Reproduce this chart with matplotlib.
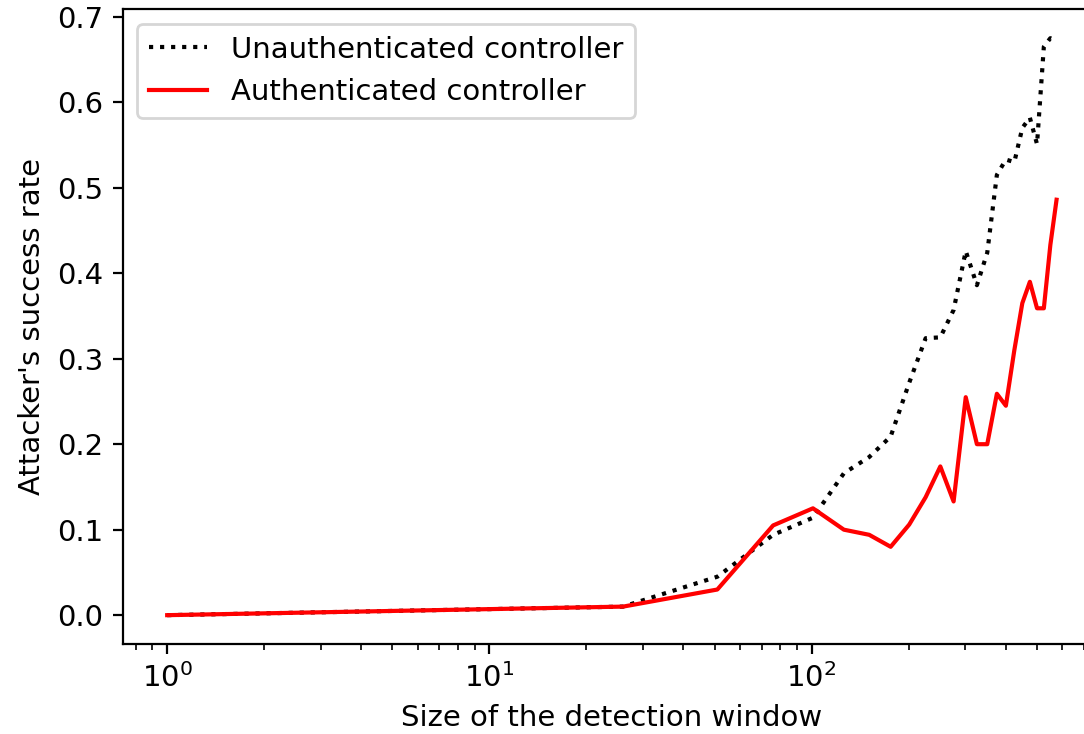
import matplotlib
matplotlib.use('Agg')
import matplotlib.pyplot as plt

plt.rcParams['font.size'] = 10.5

# detection window sizes
window = [1, 26, 51, 76, 101, 126, 151, 176, 201, 226, 251, 276,
          301, 326, 351, 376, 401, 426, 451, 476, 501, 526, 551, 576]

# success rate without / with controller authentication
unauth = [0.0, 0.01, 0.045, 0.094, 0.114, 0.166, 0.185, 0.209, 0.272, 0.324, 0.325, 0.357,
          0.426, 0.386, 0.424, 0.515, 0.533, 0.530, 0.570, 0.582, 0.551, 0.665, 0.675, 0.672]
auth = [0.0, 0.01, 0.03, 0.105, 0.125, 0.100, 0.094, 0.080, 0.106, 0.138, 0.174, 0.133,
        0.255, 0.200, 0.200, 0.259, 0.245, 0.310, 0.365, 0.390, 0.359, 0.359, 0.433, 0.486]

fig = plt.figure(figsize=(5.42, 3.67), dpi=200)
ax = fig.add_axes([0.1132, 0.1226, 0.9025, 0.8647])  # right side runs off the picture, as in the original

ax.plot(window, unauth, ':', color='black', label='Unauthenticated controller')
ax.plot(window, auth, '-', color='red', label='Authenticated controller')

ax.set_xscale('log')
ax.set_xlabel('Size of the detection window')
ax.set_ylabel("Attacker's success rate")
ax.legend(loc='upper left')

fig.savefig('out.png', dpi=200)
